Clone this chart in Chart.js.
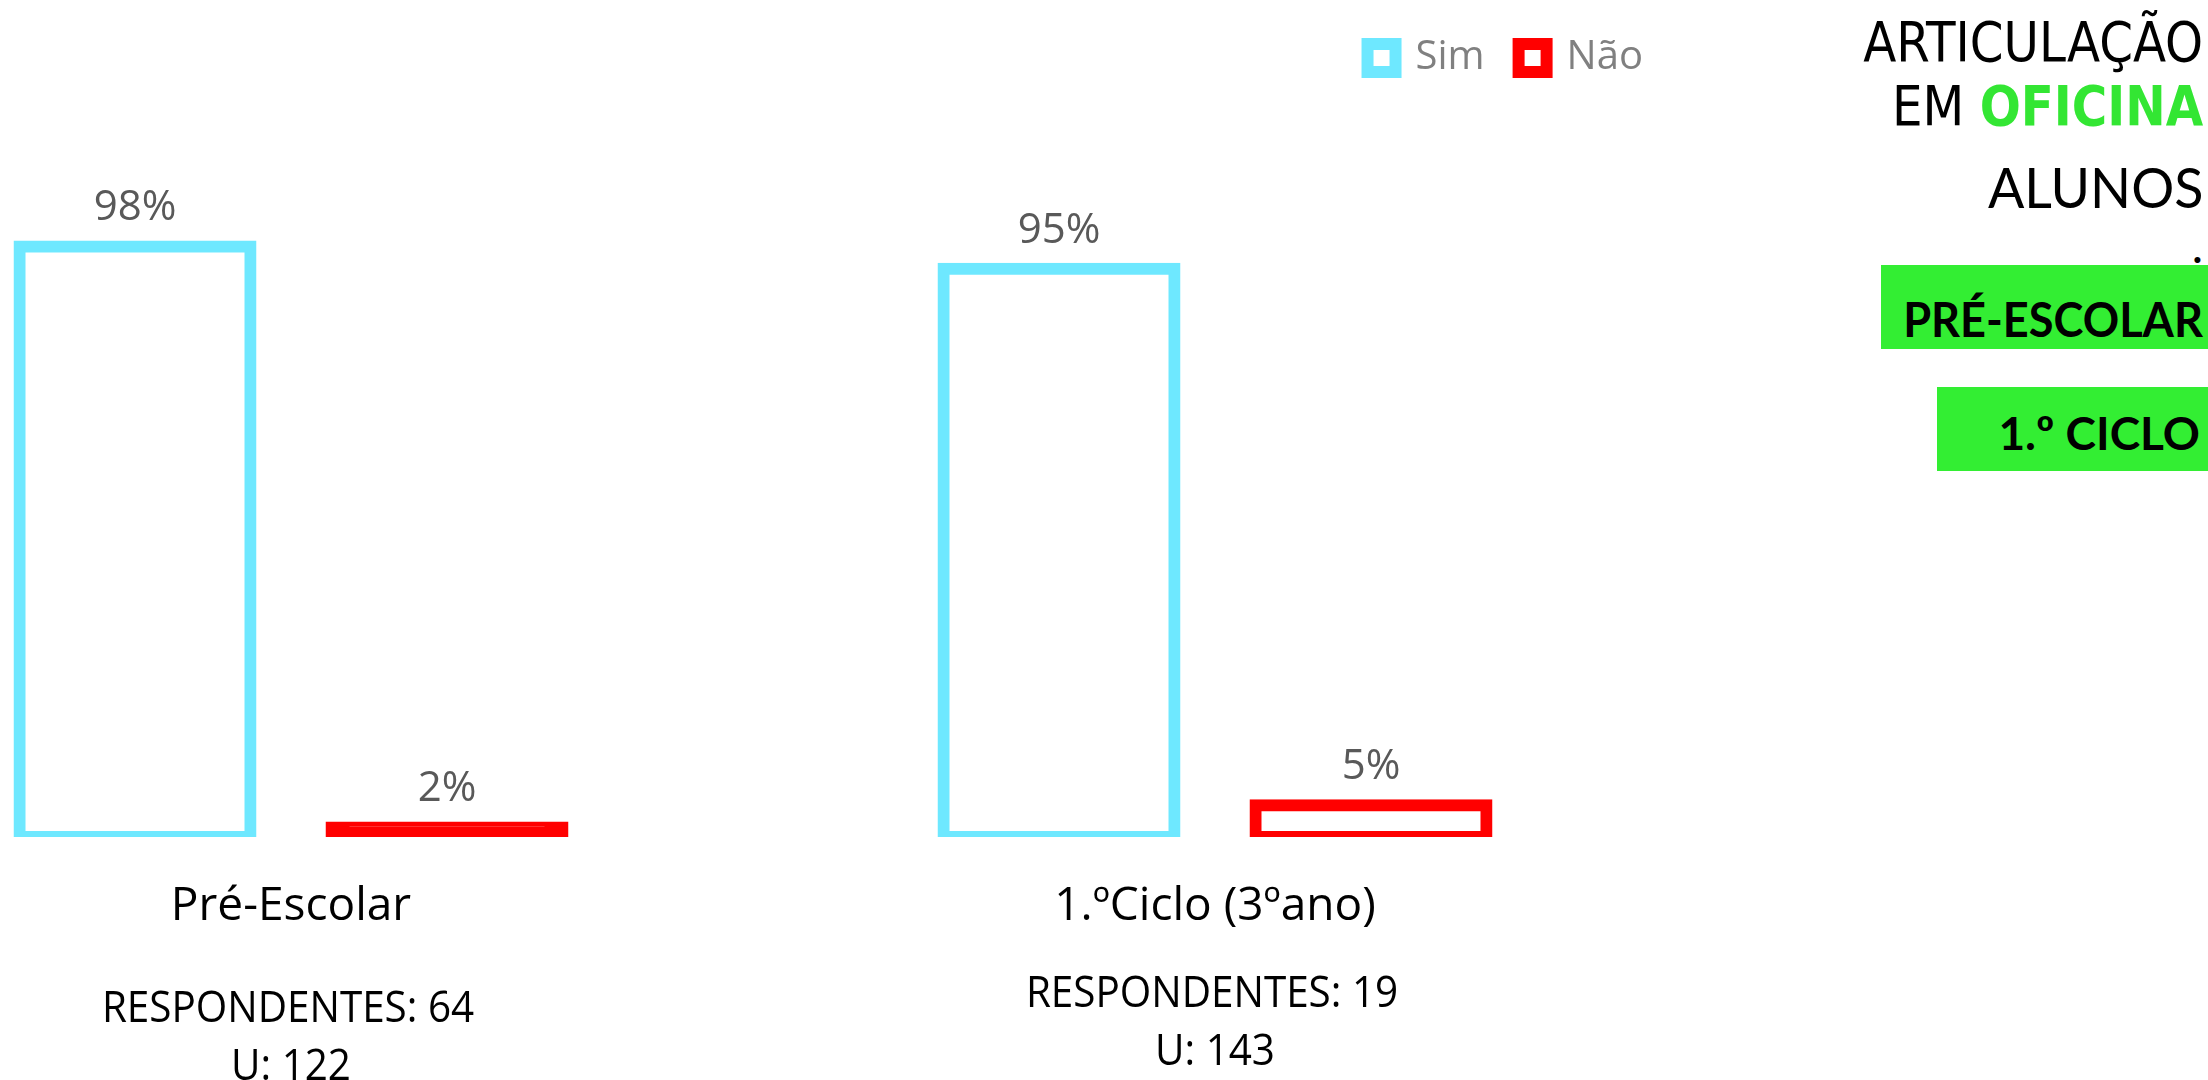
<!DOCTYPE html>
<html>
<head>
<meta charset="utf-8">
<script src="https://cdn.jsdelivr.net/npm/chart.js@4.4.1/dist/chart.umd.min.js"></script>
<style>
html, body { margin: 0; padding: 0; background: #fff; width: 2208px; height: 1080px; overflow: hidden; }
#wrap { position: absolute; left: -171px; top: 0; width: 1848px; height: 1080px; }
.t { position: absolute; right: 5px; white-space: nowrap; line-height: 1; color: #000; }
.dj { font-family: "DejaVu Sans Condensed", "DejaVu Sans"; font-stretch: condensed; font-size: 56px; transform: scaleX(0.96); transform-origin: right center; }
.verde { color: #33E633; font-weight: bold; }
.caixa { position: absolute; background: #33EE33; }
.caixa span { position: absolute; right: 5px; white-space: nowrap; line-height: 1; font-family: Lato; font-weight: bold; color: #000; transform-origin: right center; }
</style>
</head>
<body>
<div id="wrap"><canvas id="grafico" width="1848" height="1080"></canvas></div>

<div class="t dj" style="top:14px">ARTICULAÇÃO</div>
<div class="t dj" style="top:78px">EM <span class="verde">OFICINA</span></div>
<div class="t" style="top:159px;font-family:Lato;font-size:56px;transform:scaleX(0.96);transform-origin:right center">ALUNOS</div>
<div class="t" style="top:221px;font-family:Lato;font-size:48px">.</div>
<div class="caixa" style="left:1881px;top:265px;width:327px;height:84px"><span style="top:30px;font-size:48px;transform:scaleX(0.94)">PRÉ-ESCOLAR</span></div>
<div class="caixa" style="left:1937px;top:387px;width:271px;height:84px"><span style="top:23px;right:8px;font-size:46px">1.º CICLO</span></div>

<script>
// dados
const categorias = ['Pré-Escolar', '1.ºCiclo (3ºano)'];
const nomesSeries = ['Sim', 'Não'];
const valoresSim = [98.4, 94.7];
const valoresNao = [1.6, 5.3];
const respondentes = [64, 19];
const universo = [122, 143];

const corSim = '#6EE8FF';
const corNao = '#FF0000';
const notaDy = [15, 0];

function fundo(cor) {
    // barras muito baixas ficam cheias, como no original
    return function(c) { return c.raw < 4 ? cor : '#FFFFFF'; };
}

function textoEstreito(ctx, txt, x, y, k) {
    ctx.save();
    ctx.translate(x, y);
    ctx.scale(k, 1);
    ctx.fillText(txt, 0, 0);
    ctx.restore();
}

const rotulos = {
    id: 'rotulos',
    afterDatasetsDraw(chart) {
        const ctx = chart.ctx;
        ctx.save();
        ctx.textAlign = 'center';
        ctx.textBaseline = 'alphabetic';
        ctx.fillStyle = '#595959';
        ctx.font = '42px "Open Sans"';
        chart.data.datasets.forEach(function(ds, i) {
            chart.getDatasetMeta(i).data.forEach(function(bar, j) {
                ctx.fillText(Math.round(ds.data[j]) + '%', bar.x, bar.y - 26);
            });
        });
        const fundoEixo = chart.chartArea.bottom;
        ctx.fillStyle = '#000';
        ctx.font = '43px "Open Sans"';
        categorias.forEach(function(c, j) {
            const x = chart.scales.x.getPixelForValue(j);
            textoEstreito(ctx, 'RESPONDENTES: ' + respondentes[j], x - 3, fundoEixo + 170 + notaDy[j], 0.94);
            textoEstreito(ctx, 'U: ' + universo[j], x, fundoEixo + 228 + notaDy[j], 0.94);
        });
        ctx.restore();
    }
};

new Chart(document.getElementById('grafico'), {
    type: 'bar',
    data: {
        labels: categorias,
        datasets: [{
            label: nomesSeries[0],
            data: valoresSim,
            borderColor: corSim,
            backgroundColor: fundo(corSim)
        }, {
            label: nomesSeries[1],
            data: valoresNao,
            borderColor: corNao,
            backgroundColor: fundo(corNao)
        }]
    },
    options: {
        responsive: false,
        animation: false,
        layout: { padding: { top: 4, left: 0, right: 0, bottom: 0 } },
        categoryPercentage: 0.6753,
        barPercentage: 0.7404,
        datasets: {
            bar: {
                borderWidth: 12,
                borderSkipped: false,
                inflateAmount: 6,
                clip: { left: false, top: false, right: false, bottom: 0 }
            }
        },
        plugins: {
            legend: {
                position: 'top',
                align: 'end',
                labels: {
                    boxWidth: 28,
                    boxHeight: 28,
                    padding: 34,
                    color: '#808080',
                    font: { family: 'Open Sans', size: 40 },
                    generateLabels: function(chart) {
                        return chart.data.datasets.map(function(ds, i) {
                            return {
                                text: ds.label,
                                fillStyle: '#FFFFFF',
                                strokeStyle: ds.borderColor,
                                lineWidth: 12,
                                fontColor: '#808080',
                                datasetIndex: i
                            };
                        });
                    }
                }
            },
            tooltip: { enabled: false }
        },
        scales: {
            x: {
                grid: { display: false, drawTicks: false },
                border: { display: false },
                ticks: {
                    color: '#000',
                    padding: 42,
                    font: { family: 'Open Sans', size: 46 }
                },
                afterFit: function(scale) { scale.height = 243; }
            },
            y: {
                display: false,
                min: 0,
                max: 124.8
            }
        }
    },
    plugins: [rotulos]
});
</script>
</body>
</html>
